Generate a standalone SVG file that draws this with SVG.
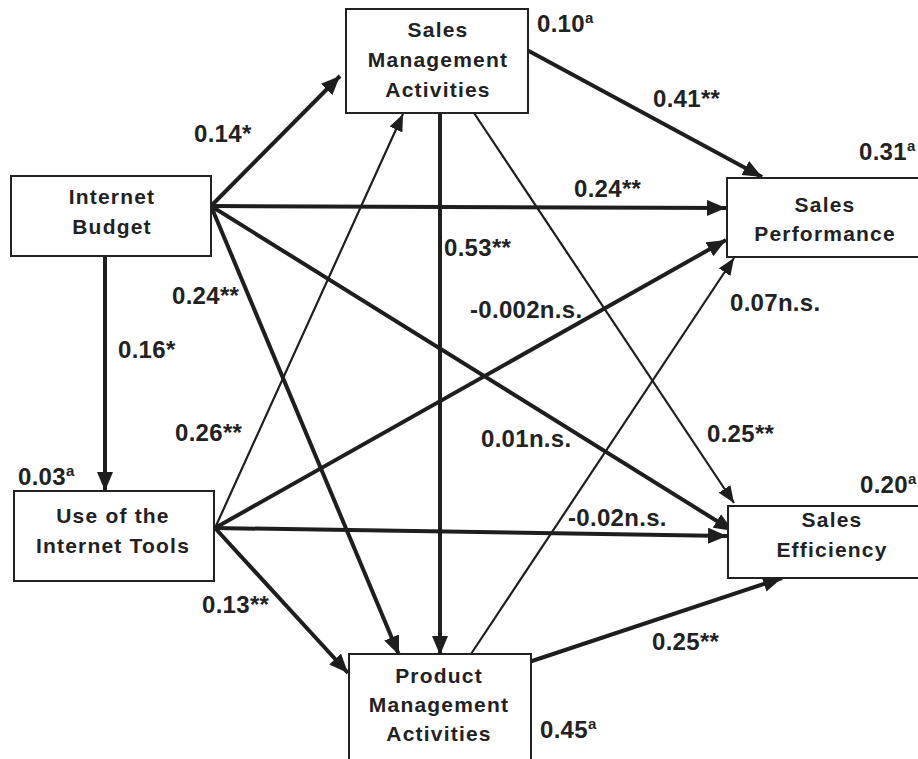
<svg xmlns="http://www.w3.org/2000/svg" width="918" height="759" viewBox="0 0 918 759">
<style>
  .box { fill: #ffffff; stroke: #222; stroke-width: 2; }
  .nt { font-family: "Liberation Sans", Arial, sans-serif; font-weight: bold; font-size: 21px; letter-spacing: 1.2px; fill: #222; text-anchor: middle; }
  .lb { font-family: "Liberation Sans", Arial, sans-serif; font-weight: bold; font-size: 24px; letter-spacing: 0.3px; fill: #222; }
  .sup { font-size: 15px; }
  .thick { stroke: #1e1e1e; stroke-width: 4; fill: none; marker-end: url(#ah); }
  .thin { stroke: #1e1e1e; stroke-width: 2.2; fill: none; marker-end: url(#ahs); }
</style>
<defs>
  <marker id="ah" markerUnits="userSpaceOnUse" markerWidth="20" markerHeight="16" refX="19" refY="8" orient="auto">
    <path d="M0,0 L19,8 L0,16 z" fill="#1e1e1e"/>
  </marker>
  <marker id="ahs" markerUnits="userSpaceOnUse" markerWidth="18" markerHeight="14" refX="17" refY="7" orient="auto">
    <path d="M0,0 L17,7 L0,14 z" fill="#1e1e1e"/>
  </marker>
</defs>
<rect width="918" height="759" fill="#ffffff"/>

<g id="connectors">
  <line class="thick" x1="211" y1="206" x2="340" y2="76"/>
  <line class="thick" x1="211" y1="206" x2="726" y2="208"/>
  <line class="thick" x1="211" y1="206" x2="733" y2="531"/>
  <line class="thick" x1="211" y1="206" x2="399" y2="655"/>
  <line class="thick" x1="105" y1="256" x2="105" y2="491"/>
  <line class="thin" x1="215" y1="528" x2="403" y2="114"/>
  <line class="thick" x1="215" y1="528" x2="726" y2="240"/>
  <line class="thick" x1="215" y1="528" x2="727" y2="536"/>
  <line class="thick" x1="215" y1="528" x2="348" y2="673"/>
  <line class="thick" x1="440" y1="113" x2="440" y2="655"/>
  <line class="thin" x1="474" y1="113" x2="734" y2="503"/>
  <line class="thick" x1="527" y1="50" x2="762" y2="177"/>
  <line class="thin" x1="471" y1="654" x2="734" y2="258"/>
  <line class="thick" x1="526" y1="663" x2="782" y2="578"/>
</g>

<g id="n-sma">
  <rect class="box" x="346" y="9" width="182" height="104"/>
  <text class="nt" x="438" y="37">Sales</text>
  <text class="nt" x="438" y="67">Management</text>
  <text class="nt" x="438" y="97">Activities</text>
</g>
<g id="n-ib">
  <rect class="box" x="11" y="176" width="200" height="80"/>
  <text class="nt" x="112" y="204">Internet</text>
  <text class="nt" x="112" y="234">Budget</text>
</g>
<g id="n-sp">
  <rect class="box" x="727" y="178" width="210" height="79"/>
  <text class="nt" x="825" y="212">Sales</text>
  <text class="nt" x="825" y="241">Performance</text>
</g>
<g id="n-uit">
  <rect class="box" x="14" y="491" width="200" height="90"/>
  <text class="nt" x="113" y="523">Use of the</text>
  <text class="nt" x="113" y="553">Internet Tools</text>
</g>
<g id="n-se">
  <rect class="box" x="728" y="506" width="210" height="72"/>
  <text class="nt" x="832" y="527">Sales</text>
  <text class="nt" x="832" y="557">Efficiency</text>
</g>
<g id="n-pma">
  <rect class="box" x="349" y="654" width="182" height="120"/>
  <text class="nt" x="439" y="683">Product</text>
  <text class="nt" x="439" y="712">Management</text>
  <text class="nt" x="439" y="741">Activities</text>
</g>

<g id="labels">
  <text class="lb" x="537" y="32">0.10<tspan class="sup" dy="-9">a</tspan></text>
  <text class="lb" x="653" y="107">0.41**</text>
  <text class="lb" x="859" y="160">0.31<tspan class="sup" dy="-9">a</tspan></text>
  <text class="lb" x="194" y="142">0.14*</text>
  <text class="lb" x="574" y="197">0.24**</text>
  <text class="lb" x="444" y="256">0.53**</text>
  <text class="lb" x="172" y="304">0.24**</text>
  <text class="lb" x="470" y="318">-0.002n.s.</text>
  <text class="lb" x="730" y="311">0.07n.s.</text>
  <text class="lb" x="118" y="358">0.16*</text>
  <text class="lb" x="175" y="441">0.26**</text>
  <text class="lb" x="481" y="447">0.01n.s.</text>
  <text class="lb" x="707" y="442">0.25**</text>
  <text class="lb" x="18" y="485">0.03<tspan class="sup" dy="-9">a</tspan></text>
  <text class="lb" x="860" y="493">0.20<tspan class="sup" dy="-9">a</tspan></text>
  <text class="lb" x="568" y="526">-0.02n.s.</text>
  <text class="lb" x="202" y="613">0.13**</text>
  <text class="lb" x="652" y="650">0.25**</text>
  <text class="lb" x="540" y="738">0.45<tspan class="sup" dy="-9">a</tspan></text>
</g>
</svg>
